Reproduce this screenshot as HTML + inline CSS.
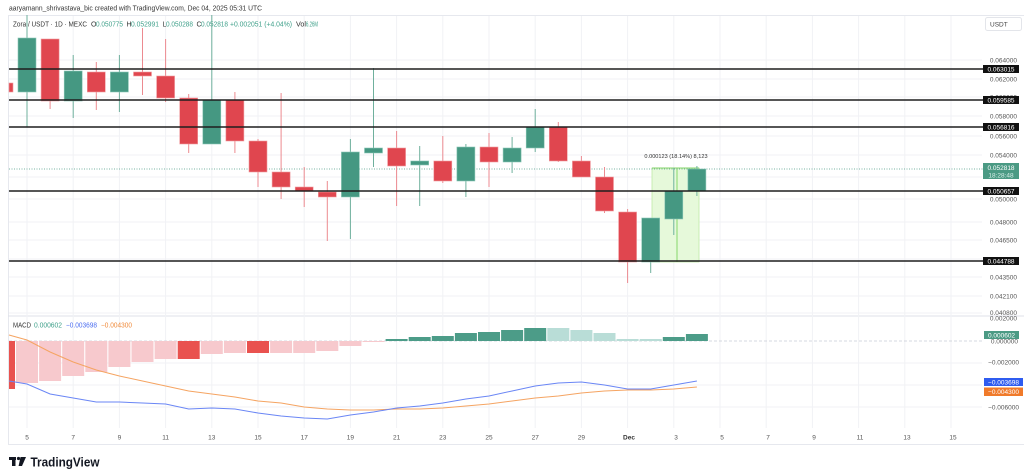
<!DOCTYPE html>
<html><head><meta charset="utf-8"><style>
html,body{margin:0;padding:0;background:#fff;width:1024px;height:476px;overflow:hidden}
svg{display:block}
text{font-family:"Liberation Sans",sans-serif}
</style></head><body>
<svg width="1024" height="476" viewBox="0 0 1024 476" xmlns="http://www.w3.org/2000/svg">
<rect width="1024" height="476" fill="#fff"/>
<!-- header -->
<text x="9" y="10.5" font-size="7" fill="#333" textLength="253" lengthAdjust="spacingAndGlyphs">aaryamann_shrivastava_bic created with TradingView.com, Dec 04, 2025 05:31 UTC</text>
<!-- frame lines -->
<line x1="8" y1="15.5" x2="1024" y2="15.5" stroke="#e6e8ee" stroke-width="1"/>
<line x1="8.5" y1="15" x2="8.5" y2="444" stroke="#e6e8ee" stroke-width="1"/>
<line x1="8" y1="444.5" x2="1024" y2="444.5" stroke="#e6e8ee" stroke-width="1"/>
<line x1="8" y1="316" x2="1024" y2="316" stroke="#dfe1ea" stroke-width="1"/>
<!-- vertical grid -->
<g stroke="#f1f2f5" stroke-width="1">
<line x1="27" y1="16" x2="27" y2="428"/><line x1="73.2" y1="16" x2="73.2" y2="428"/><line x1="119.4" y1="16" x2="119.4" y2="428"/><line x1="165.6" y1="16" x2="165.6" y2="428"/><line x1="211.8" y1="16" x2="211.8" y2="428"/><line x1="258" y1="16" x2="258" y2="428"/><line x1="304.2" y1="16" x2="304.2" y2="428"/><line x1="350.4" y1="16" x2="350.4" y2="428"/><line x1="396.6" y1="16" x2="396.6" y2="428"/><line x1="442.8" y1="16" x2="442.8" y2="428"/><line x1="489" y1="16" x2="489" y2="428"/><line x1="535.2" y1="16" x2="535.2" y2="428"/><line x1="581.4" y1="16" x2="581.4" y2="428"/><line x1="627.6" y1="16" x2="627.6" y2="428"/><line x1="673.8" y1="16" x2="673.8" y2="428"/><line x1="720" y1="16" x2="720" y2="428"/><line x1="766.2" y1="16" x2="766.2" y2="428"/><line x1="812.4" y1="16" x2="812.4" y2="428"/><line x1="858.6" y1="16" x2="858.6" y2="428"/><line x1="904.8" y1="16" x2="904.8" y2="428"/><line x1="951" y1="16" x2="951" y2="428"/>
</g>
<!-- horizontal grid main -->
<g stroke="#f1f2f5" stroke-width="1">
<line x1="9" y1="60" x2="982" y2="60"/><line x1="9" y1="79" x2="982" y2="79"/><line x1="9" y1="97" x2="982" y2="97"/><line x1="9" y1="116" x2="982" y2="116"/><line x1="9" y1="136" x2="982" y2="136"/><line x1="9" y1="155" x2="982" y2="155"/><line x1="9" y1="177" x2="982" y2="177"/><line x1="9" y1="199" x2="982" y2="199"/><line x1="9" y1="222" x2="982" y2="222"/><line x1="9" y1="240" x2="982" y2="240"/><line x1="9" y1="259" x2="982" y2="259"/><line x1="9" y1="277" x2="982" y2="277"/><line x1="9" y1="296" x2="982" y2="296"/><line x1="9" y1="313" x2="982" y2="313"/>
<line x1="9" y1="363" x2="982" y2="363"/><line x1="9" y1="385" x2="982" y2="385"/><line x1="9" y1="407" x2="982" y2="407"/>
</g>
<!-- legend -->
<g font-size="7" fill="#333">
<text x="13" y="26.5" textLength="74" lengthAdjust="spacingAndGlyphs">Zora / USDT · 1D · MEXC</text>
<text x="91" y="26.5">O</text><text x="96" y="26.5" fill="#3fa08a" textLength="27" lengthAdjust="spacingAndGlyphs">0.050775</text>
<text x="126.5" y="26.5">H</text><text x="131" y="26.5" fill="#3fa08a" textLength="28" lengthAdjust="spacingAndGlyphs">0.052991</text>
<text x="162.5" y="26.5">L</text><text x="166" y="26.5" fill="#3fa08a" textLength="27" lengthAdjust="spacingAndGlyphs">0.050288</text>
<text x="196.5" y="26.5">C</text><text x="201" y="26.5" fill="#3fa08a" textLength="27" lengthAdjust="spacingAndGlyphs">0.052818</text>
<text x="230" y="26.5" fill="#3fa08a" textLength="62" lengthAdjust="spacingAndGlyphs">+0.002051 (+4.04%)</text>
<text x="296" y="26.5" textLength="10" lengthAdjust="spacingAndGlyphs">Vol</text><text x="306" y="26.5" fill="#3fa08a" textLength="12" lengthAdjust="spacingAndGlyphs">6.26M</text>
</g>
<!-- USDT button -->
<rect x="985.5" y="17.5" width="36" height="13" rx="2" fill="#fff" stroke="#e3e5ea"/>
<text x="990" y="26.5" font-size="6.5" fill="#444">USDT</text>
<!-- measurement box -->
<rect x="652" y="168" width="47" height="94" fill="#e6f9da" stroke="#bfeaa6" stroke-width="0.8"/>
<line x1="677" y1="168" x2="677" y2="262" stroke="#86d66a" stroke-width="1"/>
<line x1="652" y1="168" x2="699" y2="168" stroke="#86d66a" stroke-width="1"/>
<text x="676" y="158" font-size="5.6" fill="#333" text-anchor="middle">0.000123 (18.14%) 8,123</text>
<!-- current price dotted line -->
<line x1="9" y1="169" x2="983" y2="169" stroke="#4b9a84" stroke-width="0.8" stroke-dasharray="1,1.5"/>
<!-- candles -->
<g stroke-width="1">
<g stroke="#6fb09d">
<line x1="27" y1="15" x2="27" y2="127"/><line x1="73.2" y1="55" x2="73.2" y2="118"/><line x1="119.4" y1="55" x2="119.4" y2="112"/><line x1="211.8" y1="15" x2="211.8" y2="144"/><line x1="350.4" y1="139" x2="350.4" y2="239"/><line x1="373.5" y1="68" x2="373.5" y2="167"/><line x1="419.7" y1="146" x2="419.7" y2="206"/><line x1="465.9" y1="144" x2="465.9" y2="197"/><line x1="512.1" y1="137" x2="512.1" y2="173"/><line x1="535.2" y1="109" x2="535.2" y2="152"/><line x1="650.7" y1="218" x2="650.7" y2="273"/><line x1="673.8" y1="168" x2="673.8" y2="235"/><line x1="696.9" y1="166" x2="696.9" y2="196"/>
</g>
<g stroke="#ec8a90">
<line x1="50.1" y1="39" x2="50.1" y2="109"/><line x1="96.3" y1="62" x2="96.3" y2="110"/><line x1="142.5" y1="28" x2="142.5" y2="95"/><line x1="165.6" y1="39" x2="165.6" y2="102"/><line x1="188.7" y1="94" x2="188.7" y2="153"/><line x1="234.9" y1="92" x2="234.9" y2="153"/><line x1="258" y1="139" x2="258" y2="187"/><line x1="281.1" y1="93" x2="281.1" y2="199"/><line x1="304.2" y1="167" x2="304.2" y2="207"/><line x1="327.3" y1="181" x2="327.3" y2="241"/><line x1="396.6" y1="131" x2="396.6" y2="206"/><line x1="442.8" y1="136" x2="442.8" y2="183"/><line x1="489" y1="133" x2="489" y2="187"/><line x1="558.3" y1="122" x2="558.3" y2="162"/><line x1="581.4" y1="156" x2="581.4" y2="177"/><line x1="604.5" y1="167" x2="604.5" y2="213"/><line x1="627.6" y1="209" x2="627.6" y2="283"/>
</g>
</g>
<g fill="#459882" stroke="#8cc7b6" stroke-width="0.6">
<rect x="18" y="38" width="18" height="54"/><rect x="64.2" y="71" width="18" height="30"/><rect x="110.4" y="72" width="18" height="20"/><rect x="202.8" y="100" width="18" height="44"/><rect x="341.4" y="152" width="18" height="45"/><rect x="364.5" y="148" width="18" height="5"/><rect x="410.7" y="161" width="18" height="4"/><rect x="456.9" y="147" width="18" height="34"/><rect x="503.1" y="148" width="18" height="14"/><rect x="526.2" y="127" width="18" height="21"/><rect x="641.7" y="218" width="18" height="44"/><rect x="664.8" y="191" width="18" height="28"/><rect x="687.9" y="169" width="18" height="22"/>
</g>
<g fill="#e0464f" stroke="#f09ca1" stroke-width="0.6">
<rect x="9" y="83" width="4" height="9"/><rect x="41.1" y="39" width="18" height="62"/><rect x="87.3" y="72" width="18" height="20"/><rect x="133.5" y="72" width="18" height="4"/><rect x="156.6" y="76" width="18" height="22"/><rect x="179.7" y="98" width="18" height="46"/><rect x="225.9" y="100" width="18" height="41"/><rect x="249" y="141" width="18" height="31"/><rect x="272.1" y="172" width="18" height="15"/><rect x="295.2" y="187" width="18" height="4"/><rect x="318.3" y="192" width="18" height="5"/><rect x="387.6" y="148" width="18" height="18"/><rect x="433.8" y="161" width="18" height="20"/><rect x="480" y="147" width="18" height="15"/><rect x="549.3" y="127" width="18" height="34"/><rect x="572.4" y="161" width="18" height="16"/><rect x="595.5" y="177" width="18" height="34"/><rect x="618.6" y="212" width="18" height="50"/>
</g>
<!-- horizontal level lines -->
<g stroke="#1e1e1e" stroke-width="1.5">
<line x1="9" y1="69" x2="983" y2="69"/><line x1="9" y1="100" x2="983" y2="100"/><line x1="9" y1="127" x2="983" y2="127"/><line x1="9" y1="191" x2="983" y2="191"/><line x1="9" y1="261" x2="983" y2="261"/>
</g>
<!-- price axis labels -->
<g font-size="6.5" fill="#555" text-anchor="end">
<text x="1017" y="62.3">0.064000</text><text x="1017" y="81.3">0.062000</text><text x="1017" y="99.3">0.060000</text><text x="1017" y="118.3">0.058000</text><text x="1017" y="138.3">0.056000</text><text x="1017" y="157.3">0.054000</text><text x="1017" y="201.3">0.050000</text><text x="1017" y="224.3">0.048000</text><text x="1017" y="242.3">0.046500</text><text x="1017" y="261.3">0.045000</text><text x="1017" y="279.3">0.043500</text><text x="1017" y="298.3">0.042100</text><text x="1017" y="315">0.040800</text><text x="1017" y="320.5">0.002000</text>
<text x="1018" y="343.3">0.000000</text><text x="1019" y="364.3">−0.002000</text><text x="1019" y="409.3">−0.006000</text>
</g>
<!-- level label boxes -->
<g>
<rect x="983" y="65" width="36" height="8" fill="#111"/><rect x="983" y="96" width="36" height="8" fill="#111"/><rect x="983" y="123" width="36" height="8" fill="#111"/><rect x="983" y="187" width="36" height="8" fill="#111"/><rect x="983" y="257" width="36" height="8" fill="#111"/>
<rect x="983" y="163" width="36" height="16" fill="#4b9a84"/>
</g>
<g font-size="6.5" fill="#fff" text-anchor="middle">
<text x="1001" y="71.3">0.063015</text><text x="1001" y="102.3">0.059585</text><text x="1001" y="129.3">0.056816</text><text x="1001" y="193.3">0.050657</text><text x="1001" y="263.3">0.044788</text>
<text x="1001" y="170">0.052818</text><text x="1001" y="177.5" fill="#d7eee8">18:28:48</text>
</g>
<!-- MACD legend -->
<g font-size="7">
<text x="13" y="327.5" fill="#333" textLength="18" lengthAdjust="spacingAndGlyphs">MACD</text>
<text x="34" y="327.5" fill="#3fa08a" textLength="28" lengthAdjust="spacingAndGlyphs">0.000602</text>
<text x="66" y="327.5" fill="#4a6cf0" textLength="31" lengthAdjust="spacingAndGlyphs">−0.003698</text>
<text x="101" y="327.5" fill="#f08a3a" textLength="31" lengthAdjust="spacingAndGlyphs">−0.004300</text>
</g>
<!-- histogram zero line -->
<line x1="9" y1="341" x2="983" y2="341" stroke="#c9ccd6" stroke-width="0.8" stroke-dasharray="3,2"/>
<!-- histogram -->
<g fill="#f7c9cd">
<rect x="16" y="341" width="22" height="42"/><rect x="39.1" y="341" width="22" height="40"/><rect x="62.2" y="341" width="22" height="35"/><rect x="85.3" y="341" width="22" height="31"/><rect x="108.4" y="341" width="22" height="26"/><rect x="131.5" y="341" width="22" height="21"/><rect x="154.6" y="341" width="22" height="18"/><rect x="200.8" y="341" width="22" height="13"/><rect x="223.9" y="341" width="22" height="12"/><rect x="270.1" y="341" width="22" height="12"/><rect x="293.2" y="341" width="22" height="12"/><rect x="316.3" y="341" width="22" height="10"/><rect x="339.4" y="341" width="22" height="5"/><rect x="362.5" y="341" width="22" height="1"/>
</g>
<g fill="#e9524f">
<rect x="9" y="341" width="6" height="48"/><rect x="177.7" y="341" width="22" height="18"/><rect x="247" y="341" width="22" height="12"/>
</g>
<g fill="#4c9c88">
<rect x="385.6" y="339" width="22" height="2"/><rect x="408.7" y="337" width="22" height="4"/><rect x="431.8" y="336" width="22" height="5"/><rect x="454.9" y="333" width="22" height="8"/><rect x="478" y="332" width="22" height="9"/><rect x="501.1" y="330" width="22" height="11"/><rect x="524.2" y="328" width="22" height="13"/><rect x="662.8" y="337" width="22" height="4"/><rect x="685.9" y="334" width="22" height="7"/>
</g>
<g fill="#b9ddd7">
<rect x="547.3" y="328" width="22" height="13"/><rect x="570.4" y="330" width="22" height="11"/><rect x="593.5" y="333" width="22" height="8"/><rect x="616.6" y="339" width="22" height="2"/><rect x="639.7" y="339" width="22" height="2"/>
</g>
<!-- signal line -->
<polyline fill="none" stroke="#f5a462" stroke-width="1" points="9,335 27,340 50.1,352 73.2,362 96.3,370 119.4,376 142.5,381 165.6,386 188.7,391 211.8,394 234.9,397 258,401 281.1,403 304.2,407 327.3,409 350.4,410 373.5,410 396.6,409 419.7,409 442.8,408 465.9,406 489,404 512.1,401 535.2,398 558.3,396 581.4,393 604.5,391 627.6,390 650.7,390 673.8,389 696.9,387"/>
<!-- macd line -->
<polyline fill="none" stroke="#6a86f5" stroke-width="1" points="9,381 27,384 50.1,394 73.2,398 96.3,402 119.4,402 142.5,403 165.6,404 188.7,409 211.8,408 234.9,409 258,413 281.1,416 304.2,418 327.3,419 350.4,415 373.5,412 396.6,408 419.7,406 442.8,403 465.9,399 489,396 512.1,391 535.2,386 558.3,383 581.4,382 604.5,385 627.6,389 650.7,389 673.8,385 696.9,381"/>
<!-- MACD axis boxes -->
<rect x="984" y="331" width="35" height="8" fill="#4b9a84"/>
<text x="1001.5" y="337.3" font-size="6.5" fill="#fff" text-anchor="middle">0.000602</text>
<rect x="984" y="378" width="39" height="8" fill="#2f5cf0"/>
<text x="1003.5" y="384.3" font-size="6.5" fill="#fff" text-anchor="middle">−0.003698</text>
<rect x="984" y="387.5" width="39" height="8.5" fill="#f07a2a"/>
<text x="1003.5" y="394" font-size="6.5" fill="#fff" text-anchor="middle">−0.004300</text>
<!-- time axis labels -->
<g font-size="6.5" fill="#555" text-anchor="middle">
<text x="27" y="439.5">5</text><text x="73.2" y="439.5">7</text><text x="119.4" y="439.5">9</text><text x="165.6" y="439.5">11</text><text x="211.8" y="439.5">13</text><text x="258" y="439.5">15</text><text x="304.2" y="439.5">17</text><text x="350.4" y="439.5">19</text><text x="396.6" y="439.5">21</text><text x="442.8" y="439.5">23</text><text x="489" y="439.5">25</text><text x="535.2" y="439.5">27</text><text x="581.4" y="439.5">29</text><text x="629" y="439.5" font-weight="bold" fill="#333">Dec</text><text x="676" y="439.5">3</text><text x="722" y="439.5">5</text><text x="768" y="439.5">7</text><text x="814" y="439.5">9</text><text x="860" y="439.5">11</text><text x="907" y="439.5">13</text><text x="953" y="439.5">15</text>
</g>
<!-- TradingView logo -->
<g fill="#131722">
<rect x="9" y="457" width="7" height="3"/><rect x="12" y="457" width="3.5" height="9"/>
<circle cx="18.5" cy="458.5" r="1.6"/>
<polygon points="20.5,457 26,457 22,466 18.6,466"/>
</g>
<text x="30.5" y="466.5" font-size="12.5" font-weight="bold" fill="#131722" textLength="69" lengthAdjust="spacingAndGlyphs">TradingView</text>
</svg>
</body></html>
